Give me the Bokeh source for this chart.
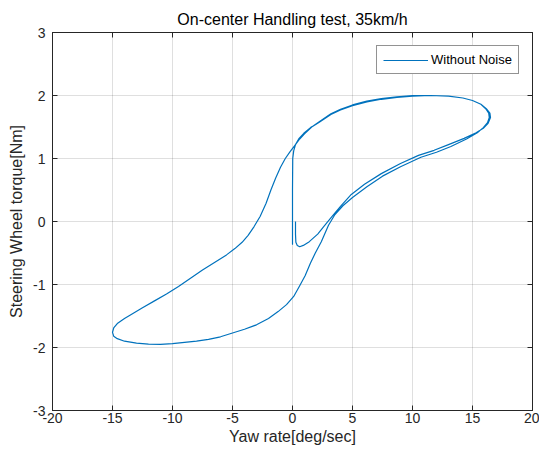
from bokeh.plotting import figure
from bokeh.models import Range1d, LinearAxis, FixedTicker, CustomJSTickFormatter, Legend, LegendItem
from bokeh.embed import file_html
from bokeh.resources import INLINE

# ---- data ----
yaw_rate = [
    # start: torque builds up while yaw rate is still zero
    0.0, 0.0, 0.0, 0.02, 0.1, 0.25, 0.55, 0.94, 1.5, 2.2, 3.2,
    # upper branch, first pass
    4.0, 5.0, 6.2, 7.4, 8.7, 10.0, 11.5, 13.0, 14.2, 15.0, 15.7, 16.1, 16.35, 16.4,
    # lower-right branch, first pass
    16.25, 15.9, 15.4, 14.5, 13.2, 12.0, 10.7, 9.0, 7.5, 6.2, 5.0, 4.2, 3.5, 3.0,
    2.4, 1.9, 1.5, 1.05, 0.6, 0.1, -0.5, -1.2, -2.0, -3.0, -4.0,
    # bottom
    -5.0, -6.0, -7.0, -8.0, -9.0, -10.0, -11.0, -12.0, -13.0, -14.0, -14.6, -14.9, -15.0,
    # left branch going up
    -14.9, -14.6, -14.0, -13.3, -12.5, -11.5, -10.5, -9.5, -8.5, -7.5, -6.5, -5.5,
    -4.8, -4.2, -3.7, -3.2, -2.7, -2.2, -1.8, -1.4, -1.0, -0.6, -0.2, 0.2, 0.6,
    1.0, 1.6, 2.5, 3.2,
    # upper branch, second pass
    4.0, 5.0, 6.2, 7.4, 8.7, 10.0, 11.5, 13.0, 14.2, 15.0,
    15.7, 16.15, 16.45, 16.5,
    # lower-right branch, second pass, then the final hook back to zero
    16.3, 15.9, 15.3, 14.3, 13.0, 11.8, 10.5, 9.0, 7.4,
    6.0, 4.9, 4.0, 3.3, 2.6, 2.1, 1.4, 0.9, 0.6, 0.4, 0.28, 0.25, 0.25,
]
torque = [
    0.0, -0.36, 0.5, 1.0, 1.12, 1.22, 1.32, 1.40, 1.49, 1.57, 1.70,
    1.77, 1.84, 1.90, 1.94, 1.97, 1.99, 2.0, 1.99, 1.96, 1.92, 1.86, 1.79, 1.72, 1.65,
    1.57, 1.49, 1.41, 1.31, 1.19, 1.10, 1.02, 0.87, 0.72, 0.55, 0.38, 0.25, 0.10, -0.06,
    -0.32, -0.50, -0.66, -0.86, -1.02, -1.19, -1.32, -1.43, -1.54, -1.64, -1.71,
    -1.77, -1.83, -1.87, -1.90, -1.92, -1.94, -1.95, -1.945, -1.93, -1.90, -1.86, -1.82, -1.76,
    -1.69, -1.62, -1.54, -1.46, -1.37, -1.26, -1.15, -1.03, -0.90, -0.77, -0.65, -0.53,
    -0.43, -0.33, -0.22, -0.08, 0.08, 0.29, 0.50, 0.69, 0.86, 1.00, 1.11, 1.21, 1.31,
    1.39, 1.50, 1.62, 1.71,
    1.78, 1.85, 1.91, 1.95, 1.98, 2.0, 2.0, 1.99, 1.96, 1.92,
    1.86, 1.79, 1.72, 1.65,
    1.56, 1.48, 1.41, 1.32, 1.22, 1.13, 1.05, 0.92, 0.76,
    0.59, 0.43, 0.24, 0.08, -0.08, -0.20, -0.32, -0.38, -0.40, -0.38, -0.33, -0.20, 0.0,
]
x_ticks = [-20, -15, -10, -5, 0, 5, 10, 15, 20]
x_tick_labels = ["-20", "-15", "-10", "-5", "0", "5", "10", "15", "20"]
y_ticks = [-3, -2, -1, 0, 1, 2, 3]
y_tick_labels = ["-3", "-2", "-1", "0", "1", "2", "3"]
series_name = "Without Noise"
title_text = "On-center Handling test, 35km/h"
x_label = "Yaw rate[deg/sec]"
y_label = "Steering Wheel torque[Nm]"

FONT = "Liberation Sans"
DARK = "#262626"

p = figure(width=539, height=458, output_backend="svg", toolbar_location=None,
           x_range=Range1d(x_ticks[0], x_ticks[-1]), y_range=Range1d(y_ticks[0], y_ticks[-1]),
           min_border_left=52, min_border_right=7, min_border_top=32, min_border_bottom=48)
p.background_fill_color = "white"
p.border_fill_color = "white"
p.outline_line_color = DARK
p.outline_line_width = 1

p.title.text = title_text
p.title.align = "center"
p.title.text_font = FONT
p.title.text_font_size = "16px"
p.title.text_font_style = "normal"
p.title.text_color = "#000000"
p.title.offset = 0

def style_axis(ax, ticks, labels, show_labels=True):
    ax.ticker = FixedTicker(ticks=ticks)
    ax.major_tick_in = 5
    ax.major_tick_out = 0
    ax.minor_tick_line_color = None
    ax.axis_line_color = DARK
    ax.major_tick_line_color = DARK
    ax.major_label_text_font = FONT
    ax.major_label_text_font_size = "14px"
    ax.major_label_text_color = DARK
    if show_labels:
        ax.major_label_overrides = {t: l for t, l in zip(ticks, labels)}
    else:
        ax.formatter = CustomJSTickFormatter(code="return ''")
        ax.major_label_standoff = 0

xa = p.xaxis[0]
ya = p.yaxis[0]
style_axis(xa, x_ticks, x_tick_labels)
style_axis(ya, y_ticks, y_tick_labels)
xa.major_label_standoff = 2
ya.major_label_standoff = 7
xa.axis_label = x_label
ya.axis_label = y_label
for ax in (xa, ya):
    ax.axis_label_text_font = FONT
    ax.axis_label_text_font_size = "16px"
    ax.axis_label_text_font_style = "normal"
    ax.axis_label_text_color = DARK
xa.axis_label_standoff = 2
ya.axis_label_standoff = 5

top_ax = LinearAxis()
right_ax = LinearAxis()
style_axis(top_ax, x_ticks, x_tick_labels, show_labels=False)
style_axis(right_ax, y_ticks, y_tick_labels, show_labels=False)
p.add_layout(top_ax, "above")
p.add_layout(right_ax, "right")

p.xgrid.ticker = FixedTicker(ticks=x_ticks)
p.ygrid.ticker = FixedTicker(ticks=y_ticks)
for g in (p.xgrid[0], p.ygrid[0]):
    g.grid_line_color = DARK
    g.grid_line_alpha = 0.15
    g.grid_line_width = 1

r = p.line(yaw_rate, torque, line_color="#0072BD", line_width=1.2, line_join="round")

legend = Legend(items=[LegendItem(label=series_name, renderers=[r])],
                location=(324, 336))
legend.padding = 6
legend.margin = 0
legend.spacing = 0
legend.glyph_width = 45
legend.glyph_height = 12
legend.label_height = 12
legend.label_standoff = 3
legend.label_text_font = FONT
legend.label_text_font_size = "13px"
legend.label_text_color = "#000000"
legend.border_line_color = DARK
legend.border_line_width = 1
legend.background_fill_color = "white"
legend.background_fill_alpha = 1
p.add_layout(legend, "center")

open("out.html", "w").write(file_html(p, INLINE))
